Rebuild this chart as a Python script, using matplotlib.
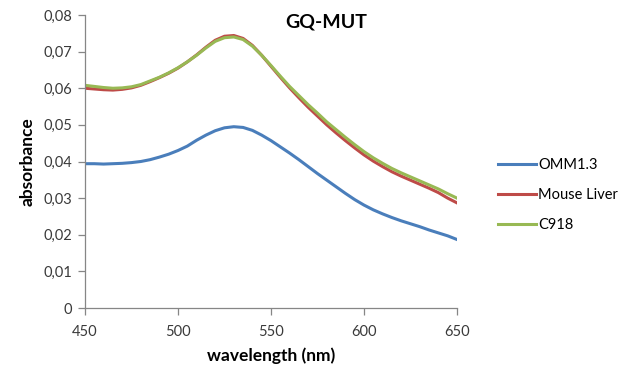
import matplotlib

matplotlib.use("Agg")
import matplotlib.pyplot as plt

plt.rcParams["font.family"] = ["Lato", "DejaVu Sans"]

wavelength = [450, 455, 460, 465, 470, 475, 480, 485, 490, 495, 500, 505, 510, 515,
              520, 525, 530, 535, 540, 545, 550, 555, 560, 565, 570, 575, 580, 585,
              590, 595, 600, 605, 610, 615, 620, 625, 630, 635, 640, 645, 650]

omm13 = [0.0394, 0.0394, 0.0393, 0.0394, 0.0395, 0.0397, 0.0400, 0.0405, 0.0412,
         0.0420, 0.0430, 0.0442, 0.0458, 0.0472, 0.0484, 0.0492, 0.0495, 0.0493,
         0.0485, 0.0472, 0.0457, 0.0440, 0.0423, 0.0405, 0.0386, 0.0367, 0.0349,
         0.0331, 0.0313, 0.0296, 0.0281, 0.0268, 0.0257, 0.0247, 0.0238, 0.0230,
         0.0222, 0.0213, 0.0205, 0.0197, 0.0187]

mouse_liver = [0.0600, 0.0598, 0.0596, 0.0595, 0.0597, 0.0601, 0.0608, 0.0618, 0.0629,
               0.0641, 0.0655, 0.0672, 0.0691, 0.0712, 0.0731, 0.0742, 0.0744, 0.0736,
               0.0717, 0.0690, 0.0660, 0.0630, 0.0601, 0.0574, 0.0548, 0.0524, 0.0500,
               0.0478, 0.0457, 0.0437, 0.0418, 0.0401, 0.0386, 0.0372, 0.0360, 0.0349,
               0.0338, 0.0327, 0.0315, 0.0300, 0.0287]

c918 = [0.0608, 0.0605, 0.0602, 0.0600, 0.0601, 0.0604, 0.0610, 0.0620, 0.0630,
        0.0642, 0.0656, 0.0672, 0.0690, 0.0710, 0.0728, 0.0738, 0.0740, 0.0733,
        0.0715, 0.0690, 0.0662, 0.0633, 0.0605, 0.0580, 0.0555, 0.0532, 0.0508,
        0.0487, 0.0466, 0.0446, 0.0427, 0.0410, 0.0395, 0.0381, 0.0369, 0.0358,
        0.0347, 0.0336, 0.0325, 0.0312, 0.0300]

series = [("OMM1.3", omm13, "#4A7EBB"),
          ("Mouse Liver", mouse_liver, "#BE4B48"),
          ("C918", c918, "#98B954")]

x_ticks = [450, 500, 550, 600, 650]
y_ticks = [0, 0.01, 0.02, 0.03, 0.04, 0.05, 0.06, 0.07, 0.08]
y_tick_labels = ["0", "0,01", "0,02", "0,03", "0,04", "0,05", "0,06", "0,07", "0,08"]

fig = plt.figure(figsize=(6.3, 3.74), dpi=100)
ax = fig.add_axes([85 / 630, 1 - 308 / 374, 372 / 630, 293 / 374])

for name, values, color in series:
    ax.plot(wavelength, values, color=color, linewidth=2.2, label=name)

ax.set_xlim(450, 650)
ax.set_ylim(0, 0.08)
ax.set_xticks(x_ticks)
ax.set_yticks(y_ticks)
ax.set_yticklabels(y_tick_labels)

grey = "#868686"
for side in ("top", "right"):
    ax.spines[side].set_visible(False)
for side in ("left", "bottom"):
    ax.spines[side].set_color(grey)
    ax.spines[side].set_linewidth(0.9)
ax.tick_params(axis="both", direction="out", length=5, width=0.9, color=grey,
               labelsize=10.5, labelcolor="#3a3a3a", pad=4)
ax.tick_params(axis="x", pad=7)

ax.set_xlabel("wavelength (nm)", fontsize=12.5, fontweight="bold", labelpad=6)
ax.set_ylabel("absorbance", fontsize=12.5, fontweight="bold", labelpad=6)

fig.text(326 / 630, 1 - 22 / 374, "GQ-MUT", fontsize=14, fontweight="bold",
         ha="center", va="center")

fig.legend(loc="center left", bbox_to_anchor=(498 / 630, 1 - 195 / 374),
           frameon=False, fontsize=10.5, handlelength=2.6, handletextpad=0.15,
           labelspacing=1.1, borderpad=0, borderaxespad=0)

fig.savefig("out.png", dpi=100)
